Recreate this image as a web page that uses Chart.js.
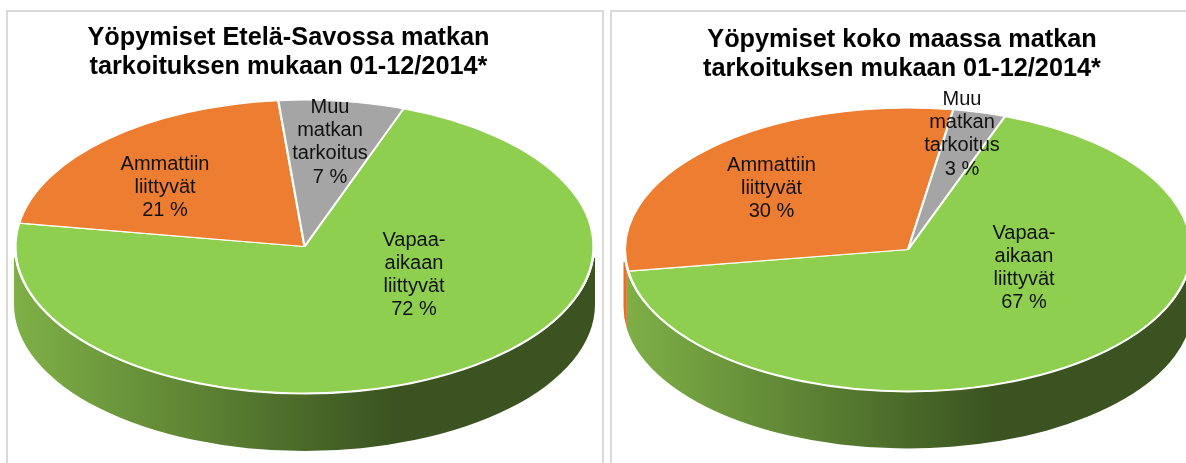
<!DOCTYPE html>
<html lang="fi">
<head>
<meta charset="utf-8">
<title>Yöpymiset matkan tarkoituksen mukaan</title>
<script src="https://cdn.jsdelivr.net/npm/chart.js@4"></script>
<style>
html,body{margin:0;padding:0;background:#fff;width:1186px;height:463px;overflow:hidden}
.panel{position:absolute;top:10px;height:470px;box-sizing:border-box;border:2px solid #d9d9d9;background:#fff}
#p1{left:6px;width:598px}
#p2{left:610px;width:600px}
.wrap{position:absolute;top:0;height:463px}
#w1{left:0;width:617px}
#w2{left:618px;width:568px}
</style>
</head>
<body>
<div class="panel" id="p1"></div>
<div class="panel" id="p2"></div>
<div class="wrap" id="w1"><canvas id="c1" width="617" height="463"></canvas></div>
<div class="wrap" id="w2"><canvas id="c2" width="568" height="463"></canvas></div>
<script>
// --- data ---
const categories = ['Vapaa-aikaan liittyvät', 'Ammattiin liittyvät', 'Muu matkan tarkoitus'];
const labelLines = [['Vapaa-', 'aikaan', 'liittyvät'], ['Ammattiin', 'liittyvät'], ['Muu', 'matkan', 'tarkoitus']];
const valuesEtelaSavo = [72, 21, 7];
const valuesKokoMaa = [67, 30, 3];
const titleEtelaSavo = ['Yöpymiset Etelä-Savossa matkan', 'tarkoituksen mukaan 01-12/2014*'];
const titleKokoMaa = ['Yöpymiset koko maassa matkan', 'tarkoituksen mukaan 01-12/2014*'];

// --- styles ---
const sliceColors = ['#8fcf50', '#ed7d31', '#a5a5a5'];
const FONT = '"Liberation Sans", Arial, sans-serif';

const pie3d = {
  id: 'pie3d',
  beforeDatasetsDraw(chart) {
    const o = chart.options.plugins.pie3d;
    const ctx = chart.ctx;
    const arcs = chart.getDatasetMeta(0).data;
    const grad = ctx.createLinearGradient(o.cx - o.rx, 0, o.darkX, 0);
    grad.addColorStop(0, '#7eb046');
    grad.addColorStop(1, '#3a5320');
    const wallFill = [grad, '#e0732c', '#8a8a8a'];
    const wr = o.rx + 1.5;
    ctx.save();
    ctx.beginPath();
    ctx.rect(0, o.wallTop, chart.width, chart.height - o.wallTop);
    ctx.clip();
    arcs.forEach((arc, i) => {
      for (let k = -1; k <= 2; k++) {
        const lo = 2 * Math.PI * k, hi = lo + Math.PI;
        const a = Math.max(arc.startAngle, lo), b = Math.min(arc.endAngle, hi);
        if (b <= a) continue;
        ctx.beginPath();
        ctx.ellipse(o.cx, o.cy, wr, o.ry, 0, a, b, false);
        ctx.ellipse(o.cx, o.cy + o.depth, wr, o.ry, 0, b, a, true);
        ctx.closePath();
        ctx.fillStyle = wallFill[i];
        ctx.fill();
      }
    });
    ctx.restore();
    // white rim between the top face and the wall
    ctx.beginPath();
    ctx.ellipse(o.cx, o.cy, o.rx + 0.4, o.ry + 0.6, 0, 0, Math.PI, false);
    ctx.strokeStyle = '#ffffff';
    ctx.lineWidth = 1.8;
    ctx.stroke();
    const first = arcs[0];
    ctx.save();
    ctx.translate(o.cx, o.cy);
    ctx.scale(1, o.ry / o.rx);
    ctx.translate(-first.x, -first.y);
  },
  afterDatasetsDraw(chart) {
    chart.ctx.restore();
    const o = chart.options.plugins.pie3d;
    const ctx = chart.ctx;
    const values = chart.data.datasets[0].data;
    ctx.save();
    ctx.font = '20px ' + FONT;
    ctx.fillStyle = '#111';
    ctx.textAlign = 'center';
    ctx.textBaseline = 'middle';
    labelLines.forEach((lines, i) => {
      const all = lines.concat(values[i] + ' %');
      const p = o.labels[i];
      all.forEach((t, j) => ctx.fillText(t, p[0], p[1] + j * 23.2));
    });
    ctx.restore();
  }
};

function makeChart(id, values, title, titleTop, padRight, geom) {
  return new Chart(document.getElementById(id), {
    type: 'pie',
    plugins: [pie3d],
    data: {
      labels: categories,
      datasets: [{
        data: values,
        backgroundColor: sliceColors,
        borderColor: '#ffffff',
        borderWidth: 2.2,
        clip: false
      }]
    },
    options: {
      responsive: false,
      animation: false,
      rotation: 20,
      radius: geom.rx,
      layout: { padding: { right: padRight } },
      plugins: {
        legend: { display: false },
        tooltip: { enabled: false },
        title: {
          display: true,
          text: title,
          color: '#000',
          align: 'center',
          padding: { top: titleTop, bottom: 0 },
          font: { family: FONT, size: 25.3, weight: 'bold', lineHeight: 1.15 }
        },
        pie3d: geom
      }
    }
  });
}

// geometry in canvas pixels (canvas 2 begins at x = 618)
makeChart('c1', valuesEtelaSavo, titleEtelaSavo, 23.5, 40, {
  cx: 304.5, cy: 246.5, rx: 289, ry: 146.5, depth: 58, darkX: 395, wallTop: 258,
  labels: [[414, 240], [165, 164], [330, 107.5]]
});
makeChart('c2', valuesKokoMaa, titleKokoMaa, 25.5, 0, {
  cx: 290, cy: 249.5, rx: 283, ry: 141.5, depth: 57.5, darkX: 378, wallTop: 262,
  labels: [[406, 233], [153.5, 165.5], [344, 99.5]]
});
</script>
</body>
</html>
